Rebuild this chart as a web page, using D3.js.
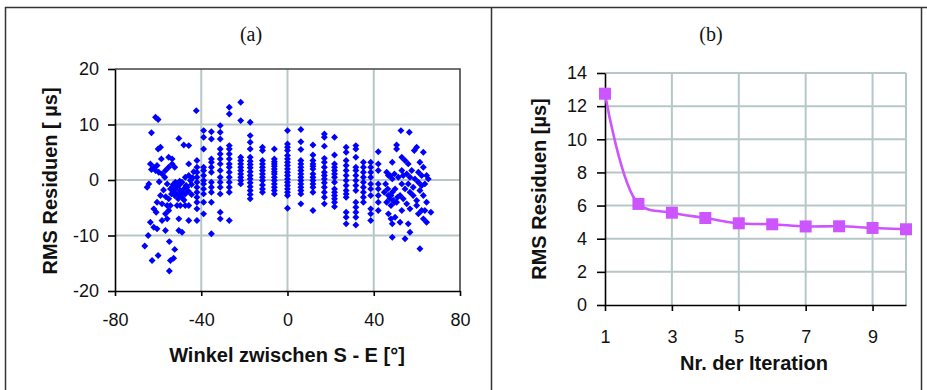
<!DOCTYPE html>
<html>
<head>
<meta charset="utf-8">
<script src="https://cdn.jsdelivr.net/npm/d3@7"></script>
<style>
html,body{margin:0;padding:0;background:#fff;}
svg{display:block;}
</style>
</head>
<body>
<svg id="chart" width="927" height="390"></svg>
<script>
// ---------- DATA ----------
// Panel (a): RMS residuals [µs] vs. angle between S and E [°] — [angle, residual]
const scatterPoints = [
  // left scattered cluster
  [-61.2,11.3],[-60.0,10.9],[-63.1,8.5],[-50.4,7.5],[-48.1,6.3],[-45.8,6.2],[-58.9,5.9],[-60.0,5.6],
  [-45.8,2.9],[-45.8,0.8],[-45.0,-0.1],[-47.4,0.5],[-48.9,-0.4],[-50.4,-1.0],[-52.0,-1.6],[-53.5,-1.3],
  [-52.8,-2.2],[-51.2,-2.5],[-49.7,-1.9],[-48.1,-1.6],[-46.6,-1.3],[-47.4,-2.5],[-48.9,-3.1],[-50.7,-3.4],
  [-52.3,-2.8],[-53.8,-2.5],[-55.1,-3.4],[-54.3,-1.6],[-55.8,-0.7],[-56.9,0.5],[-58.2,1.1],[-56.6,1.7],
  [-55.1,2.3],[-53.5,2.9],[-52.3,2.3],[-55.1,4.1],[-53.5,3.8],[-58.5,3.8],[-60.5,2.6],[-62.0,2.3],
  [-63.6,2.9],[-63.1,1.9],[-61.2,1.7],[-59.7,1.4],[-64.3,-0.7],[-65.1,-1.3],[-58.9,-2.8],[-60.5,-4.0],
  [-58.2,-4.3],[-62.0,-5.2],[-60.9,-5.8],[-55.8,-4.6],[-54.3,-4.6],[-51.2,-4.6],[-49.7,-4.6],[-47.4,-4.6],
  [-45.8,-4.6],[-55.1,-5.5],[-56.6,-6.1],[-58.2,-7.3],[-55.8,-7.0],[-50.4,-7.0],[-45.8,-7.3],
  [-63.6,-7.6],[-62.0,-8.5],[-60.5,-8.8],[-56.6,-9.1],[-50.4,-9.1],[-48.9,-9.4],[-64.6,-10.0],[-66.2,-11.9],
  [-54.8,-11.1],[-52.3,-12.5],[-60.0,-13.6],[-62.8,-14.5],[-54.3,-14.5],[-52.8,-14.1],[-54.8,-16.4],[-35.3,-9.7],
  [-52.0,-0.4],[-51.0,-1.0],[-50.0,-0.2],[-49.0,-2.2],[-53.0,-0.8],[-50.0,-2.8],[-47.0,-1.0],[-46.0,-2.0],
  [-48.0,-3.6],[-44.5,-2.6],[-44.5,-0.8],[-44.0,0.4],[-43.5,1.5],[-57.5,-1.8],[-56.5,-3.0],[-59.5,-0.3],
  // column ≈ -42
  [-42.3,12.5],[-42.0,3.5],[-42.0,2.3],[-42.0,1.4],[-42.0,0.5],[-42.0,-0.4],[-42.0,-1.3],[-42.0,-2.2],
  [-42.0,-3.1],[-42.0,-4.0],[-42.0,-5.2],[-42.0,-7.3],
  // column ≈ -39
  [-38.9,8.9],[-38.9,7.7],[-38.9,5.6],[-38.9,2.3],[-38.9,1.7],[-38.9,0.8],[-38.9,-0.1],[-38.9,-0.7],
  [-38.9,-1.6],[-38.9,-2.5],[-38.9,-4.0],[-38.9,-6.1],
  // column ≈ -35
  [-35.3,8.7],[-35.3,7.4],[-35.3,3.8],[-35.3,3.2],[-35.3,2.3],[-35.3,1.4],[-35.3,-0.4],[-35.3,-1.3],
  [-35.3,-2.2],[-35.3,-4.0],
  // column ≈ -31
  [-31.2,9.8],[-31.2,8.6],[-31.2,7.4],[-31.2,5.6],[-31.2,4.7],[-31.2,3.8],[-31.2,2.9],[-31.2,1.7],
  [-31.2,0.5],[-31.2,-0.4],[-31.2,-1.3],[-31.2,-2.5],[-31.2,-5.8],[-31.2,-7.0],
  // column ≈ -27
  [-27.0,13.1],[-27.0,11.9],[-27.0,6.2],[-27.0,5.6],[-27.0,4.7],[-27.0,3.8],[-27.0,2.9],[-27.0,2.3],
  [-27.0,1.4],[-27.0,0.5],[-27.0,-0.4],[-27.0,-1.3],[-27.0,-2.2],[-27.0,-7.3],
  // column ≈ -22
  [-21.7,14.0],[-21.7,10.7],[-21.7,4.1],[-21.7,3.5],[-21.7,2.9],[-21.7,2.3],[-21.7,1.7],[-21.7,1.1],
  [-21.7,0.5],[-21.7,-0.1],[-21.7,-0.7],
  // column ≈ -17
  [-17.3,10.4],[-17.3,8.0],[-17.3,6.8],[-17.3,5.6],[-17.3,4.1],[-17.3,3.4],[-17.3,2.8],[-17.3,2.2],
  [-17.3,1.5],[-17.3,0.8],[-17.3,0.2],[-17.3,-0.5],[-17.3,-1.2],[-17.3,-1.9],[-17.3,-2.6],[-17.3,-3.4],
  // column ≈ -12
  [-11.6,5.9],[-11.6,5.3],[-11.6,3.5],[-11.6,2.9],[-11.6,2.3],[-11.6,1.7],[-11.6,1.1],[-11.6,0.5],
  [-11.6,-0.1],[-11.6,-0.9],[-11.6,-1.6],[-11.6,-2.2],
  // column ≈ -6
  [-6.1,5.6],[-6.1,3.8],[-6.1,3.3],[-6.1,2.9],[-6.1,2.5],[-6.1,2.0],[-6.1,1.5],[-6.1,1.1],
  [-6.1,0.5],[-6.1,-0.1],[-6.1,-0.7],[-6.1,-1.3],[-6.1,-1.9],[-6.1,-2.5],
  // column ≈ 0
  [0,8.9],[0,6.5],[0,5.9],[0,5.3],[0,4.4],[0,3.8],[0,3.2],[0,2.6],[0,2.0],[0,1.4],[0,0.8],[0,0.2],
  [0,-0.4],[0,-1.0],[0,-1.6],[0,-2.2],[0,-2.8],[0,-5.1],
  // column ≈ 6
  [6.2,9.1],[6.2,6.9],[6.2,5.5],[6.2,3.5],[6.2,2.9],[6.2,2.3],[6.2,1.7],[6.2,1.1],[6.2,0.5],
  [6.2,-0.1],[6.2,-0.7],[6.2,-1.3],[6.2,-1.9],[6.2,-2.5],[6.2,-4.3],
  // column ≈ 12
  [11.8,6.3],[11.8,4.5],[11.8,3.5],[11.8,2.9],[11.8,2.5],[11.8,2.0],[11.8,1.1],[11.8,0.5],
  [11.8,-0.1],[11.8,-0.7],[11.8,-1.3],[11.8,-2.2],[11.8,-5.5],
  // column ≈ 17
  [17.1,8.3],[17.1,7.7],[17.1,6.1],[17.1,3.9],[17.1,3.2],[17.1,2.3],[17.1,1.4],[17.1,0.8],
  [17.1,0.2],[17.1,-0.5],[17.1,-1.3],[17.1,-2.2],[17.1,-3.1],[17.1,-4.3],
  // column ≈ 22
  [21.8,7.7],[21.8,4.5],[21.8,2.9],[21.8,2.3],[21.8,1.7],[21.8,1.1],[21.8,0.5],[21.8,-0.4],
  [21.8,-1.6],[21.8,-2.2],[21.8,-2.8],[21.8,-3.4],[21.8,-4.0],[21.8,-4.8],
  // column ≈ 27
  [27.2,5.9],[27.2,5.0],[27.2,3.5],[27.2,2.6],[27.2,1.7],[27.2,0.8],[27.2,-0.1],[27.2,-1.0],
  [27.2,-1.9],[27.2,-2.5],[27.2,-3.1],[27.2,-5.8],[27.2,-6.7],[27.2,-7.9],
  // column ≈ 32
  [31.7,6.2],[31.7,5.6],[31.7,4.1],[31.7,2.3],[31.7,1.7],[31.7,0.8],[31.7,-0.1],[31.7,-1.0],
  [31.7,-1.9],[31.7,-4.0],[31.7,-4.9],[31.7,-5.8],[31.7,-6.7],[31.7,-8.1],
  // column ≈ 35
  [35.2,3.2],[35.2,2.3],[35.2,1.4],[35.2,0.5],[35.2,-0.4],[35.2,-1.3],[35.2,-2.2],[35.2,-3.1],[35.2,-4.0],
  // column ≈ 39
  [38.6,3.2],[38.6,2.3],[38.6,1.4],[38.6,0.5],[38.6,-0.7],[38.6,-1.6],[38.6,-2.8],[38.6,-5.2],[38.6,-6.1],[38.6,-7.3],
  // column ≈ 42
  [42.1,5.1],[42.1,2.9],[42.1,1.7],[42.1,-0.7],[42.1,-1.6],[42.1,-2.8],[42.1,-4.0],[42.1,-5.5],
  // right scattered cluster
  [52.6,8.9],[56.5,8.6],[50.6,6.3],[50.6,5.6],[59.9,5.9],[58.8,5.3],[63.0,5.0],[48.6,3.2],
  [53.0,4.1],[54.5,3.5],[56.0,2.9],[61.4,3.2],[63.0,2.3],[64.5,0.8],[65.3,0.2],[46.0,1.4],
  [47.5,0.8],[49.6,1.1],[51.4,0.5],[53.7,0.8],[55.3,1.1],[56.8,0.5],[59.1,0.2],[60.7,-0.4],
  [62.2,-1.0],[63.7,-0.7],[44.9,-2.2],[46.5,-1.6],[48.0,-2.8],[49.1,-3.7],[50.6,-4.0],[52.2,-2.8],
  [53.7,-3.4],[55.3,-4.3],[56.8,-5.2],[58.3,-2.8],[59.9,-4.6],[60.7,-6.1],[62.2,-5.5],[63.0,-7.0],
  [64.5,-7.6],[66.5,-5.8],[63.7,-5.5],[46.8,-6.1],[48.0,-7.0],[49.9,-6.7],[48.6,-7.9],[52.2,-7.6],
  [56.0,-7.9],[56.8,-9.4],[54.5,-10.6],[48.6,-10.3],[61.4,-12.4],
  [45.5,-0.7],[46.8,-2.8],[47.5,-3.4],[48.6,-2.2],[49.6,-4.0],[49.9,-1.6],[51.0,-3.1],[48.0,-4.6],
  [46.0,-4.0],[53.0,-0.7],[54.5,-1.6],[56.8,-2.2],[58.3,-1.3],[61.4,-1.9],[63.0,-2.8],[64.5,-4.0],
  [53.0,-5.5],[59.9,-3.7],[46.8,0.8],[48.6,0.2],[53.0,1.7],[57.6,1.7],[60.7,1.4],[62.2,0.8],[56.0,-0.7]
];
const scatterXTicks = [-80, -40, 0, 40, 80];
const scatterYTicks = [-20, -10, 0, 10, 20];
const scatterXGrid = [-40, 0, 40];
const scatterYGrid = [-10, 0, 10];

// Panel (b): RMS residuals [µs] per iteration
const iterations = [1, 2, 3, 4, 5, 6, 7, 8, 9, 10];
const rmsValues  = [12.75, 6.1, 5.57, 5.25, 4.93, 4.87, 4.74, 4.75, 4.65, 4.57];
const iterXTicks = [1, 3, 5, 7, 9];
const iterYTicks = [0, 2, 4, 6, 8, 10, 12, 14];
const iterXGrid  = [3, 5, 7, 9, 10];
const iterYGrid  = [2, 4, 6, 8, 10, 12, 14];

// ---------- DRAW ----------
const svg = d3.select("#chart");
const FONT = "'Liberation Sans', Arial, sans-serif";
const GRID = "#b7c7c7";
const TICKTXT = "#111";
const plainFmt = d => String(d);   // hyphen-minus as in the original

svg.append("rect").attr("width", 927).attr("height", 390).attr("fill", "#fff");

// outer frame
const frame = svg.append("g").attr("stroke", "#333").attr("stroke-width", 1.5).attr("fill", "none");
frame.append("line").attr("x1", 5).attr("x2", 927).attr("y1", 7.5).attr("y2", 7.5);
frame.append("line").attr("x1", 5.5).attr("x2", 5.5).attr("y1", 7).attr("y2", 390);
frame.append("line").attr("x1", 491.5).attr("x2", 491.5).attr("y1", 7).attr("y2", 390);
frame.append("line").attr("x1", 921.5).attr("x2", 921.5).attr("y1", 7).attr("y2", 390);

// panel titles
svg.append("text").attr("x", 251).attr("y", 41).attr("text-anchor", "middle")
  .attr("font-family", "'Liberation Serif', 'DejaVu Serif', serif").attr("font-size", 20)
  .attr("fill", "#111").text("(a)");
svg.append("text").attr("x", 711).attr("y", 41).attr("text-anchor", "middle")
  .attr("font-family", "'Liberation Serif', 'DejaVu Serif', serif").attr("font-size", 20)
  .attr("fill", "#111").text("(b)");

function styleAxis(g) {
  g.select(".domain").attr("stroke", "#000").attr("stroke-width", 1.6);
  g.selectAll(".tick line").attr("stroke", "#000").attr("stroke-width", 1.6);
  g.selectAll(".tick text").attr("font-family", FONT).attr("font-size", 18).attr("fill", TICKTXT);
}

// ----- Panel (a) -----
{
  const x = d3.scaleLinear().domain([-80, 80]).range([115, 460]);
  const y = d3.scaleLinear().domain([-20, 20]).range([291, 69]);
  const g = svg.append("g");

  g.selectAll(".vg").data(scatterXGrid).join("line")
    .attr("x1", d => x(d)).attr("x2", d => x(d)).attr("y1", y(20)).attr("y2", y(-20))
    .attr("stroke", GRID).attr("stroke-width", 2);
  g.selectAll(".hg").data(scatterYGrid).join("line")
    .attr("x1", x(-80)).attr("x2", x(80)).attr("y1", d => y(d)).attr("y2", d => y(d))
    .attr("stroke", GRID).attr("stroke-width", 2);

  // top & right border
  g.append("path")
    .attr("d", `M${x(-80)},${y(20)}H${x(80)}V${y(-20)}`)
    .attr("fill", "none").attr("stroke", "#444").attr("stroke-width", 1.6);

  const sym = d3.symbol().type(d3.symbolSquare).size(24);
  g.append("g").selectAll("path").data(scatterPoints).join("path")
    .attr("d", sym)
    .attr("transform", d => `translate(${x(d[0])},${y(d[1])}) rotate(45)`)
    .attr("fill", "#0000ff");

  const ax = g.append("g").attr("transform", `translate(0,${y(-20)})`)
    .call(d3.axisBottom(x).tickValues(scatterXTicks).tickFormat(plainFmt).tickSize(5).tickSizeOuter(0).tickPadding(17));
  styleAxis(ax);
  const ay = g.append("g").attr("transform", `translate(${x(-80)},0)`)
    .call(d3.axisLeft(y).tickValues(scatterYTicks).tickFormat(plainFmt).tickSize(7).tickSizeOuter(0).tickPadding(9));
  styleAxis(ay);

  g.append("text").attr("x", 287).attr("y", 362).attr("text-anchor", "middle")
    .attr("font-family", FONT).attr("font-size", 20).attr("font-weight", "bold")
    .attr("fill", "#111").text("Winkel zwischen S - E [°]");
  g.append("text").attr("transform", "translate(57,181) rotate(-90)").attr("text-anchor", "middle")
    .attr("font-family", FONT).attr("font-size", 20).attr("font-weight", "bold")
    .attr("fill", "#111").text("RMS Residuen [ µs]");
}

// ----- Panel (b) -----
{
  const x = d3.scaleLinear().domain([1, 10]).range([605, 906]);
  const y = d3.scaleLinear().domain([0, 14]).range([305, 73]);
  const g = svg.append("g");

  g.selectAll(".vg").data(iterXGrid).join("line")
    .attr("x1", d => x(d)).attr("x2", d => x(d)).attr("y1", y(14)).attr("y2", y(0))
    .attr("stroke", GRID).attr("stroke-width", 2);
  g.selectAll(".hg").data(iterYGrid).join("line")
    .attr("x1", x(1)).attr("x2", x(10)).attr("y1", d => y(d)).attr("y2", d => y(d))
    .attr("stroke", GRID).attr("stroke-width", 2);

  const ax = g.append("g").attr("transform", `translate(0,${y(0)})`)
    .call(d3.axisBottom(x).tickValues(iterXTicks).tickFormat(plainFmt).tickSize(6).tickSizeOuter(0).tickPadding(19));
  styleAxis(ax);
  const ay = g.append("g").attr("transform", `translate(${x(1)},0)`)
    .call(d3.axisLeft(y).tickValues(iterYTicks).tickFormat(plainFmt).tickSize(8).tickSizeOuter(0).tickPadding(10));
  styleAxis(ay);

  const pts = iterations.map((d, i) => [d, rmsValues[i]]);
  const line = d3.line().x(d => x(d[0])).y(d => y(d[1])).curve(d3.curveCatmullRom.alpha(0.5));
  g.append("path").datum(pts).attr("d", line)
    .attr("fill", "none").attr("stroke", "#cc55ff").attr("stroke-width", 2.6);
  g.selectAll(".pt").data(pts).join("rect")
    .attr("x", d => x(d[0]) - 6).attr("y", d => y(d[1]) - 6)
    .attr("width", 12).attr("height", 12).attr("fill", "#cc55ff");

  g.append("text").attr("x", 754).attr("y", 370).attr("text-anchor", "middle")
    .attr("font-family", FONT).attr("font-size", 20).attr("font-weight", "bold")
    .attr("fill", "#111").text("Nr. der Iteration");
  g.append("text").attr("transform", "translate(546,189) rotate(-90)").attr("text-anchor", "middle")
    .attr("font-family", FONT).attr("font-size", 20).attr("font-weight", "bold")
    .attr("fill", "#111").text("RMS Residuen [µs]");
}
</script>
</body>
</html>
